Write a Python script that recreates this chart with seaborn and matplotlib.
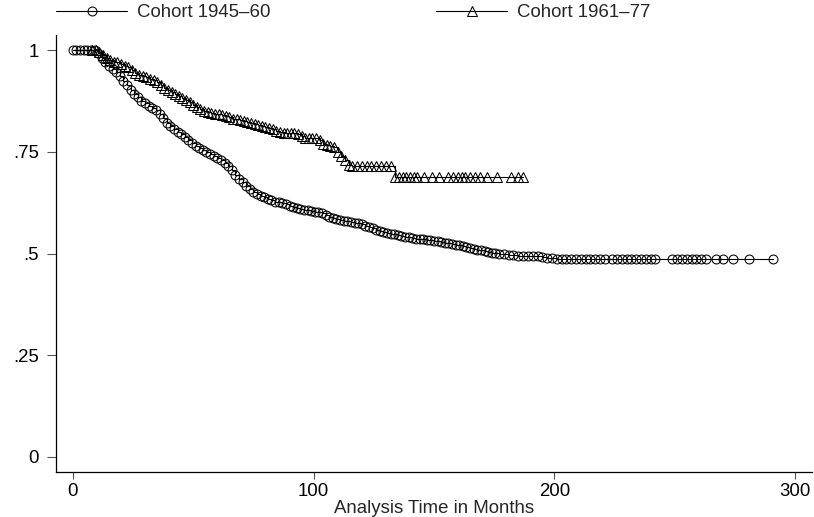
import matplotlib
matplotlib.use("Agg")
import matplotlib.pyplot as plt
import seaborn as sns
import pandas as pd

# Cohort 1945-60 (circles): analysis time (months) and survival estimate
time_c = [0, 1.5, 3, 4.5, 6, 7.5, 9, 10.5, 12, 13.5, 15, 16.5, 18, 19.5, 21, 22.5, 24, 25.5,
          27, 28.5, 30, 31.5, 33, 34.5, 36, 37.5, 39, 40.5, 42, 43.5, 45, 46.5, 48, 49.5,
          51, 52.5, 54, 55.5, 57, 58.5, 60, 61.5, 63, 64.5, 66, 67.5, 69, 70.5, 72, 73.5,
          75, 76.5, 78, 79.5, 81, 82.5, 84, 85.5, 87, 88.5, 90, 91.5, 93, 94.5, 96, 97.5,
          99, 100.5, 102, 103.5, 105, 106.5, 108, 109.5, 111, 112.5, 114, 115.5, 117, 118.5,
          120, 121.5, 123, 124.5, 126, 127.5, 129, 130.5, 132, 133.5, 135, 136.5, 138, 139.5,
          141, 142.5, 144, 145.5, 147, 148.5, 150, 151.5, 153, 154.5, 156, 157.5, 159, 160.5,
          162, 163.5, 165, 166.5, 168, 169.5, 171, 172.5, 174, 175.5, 177, 179, 181, 183,
          185, 187, 189, 191, 193, 195, 197, 199, 201, 203, 205, 207, 209, 211, 213, 215,
          217, 219, 221, 224, 226, 228, 230, 232, 234, 236, 238, 240, 242, 249, 251, 253,
          255, 257, 259, 261, 263, 267, 270, 274, 281, 291]
surv_c = [1.000, 1.000, 1.000, 1.000, 1.000, 1.000, 1.000, 0.992, 0.982, 0.972, 0.962, 0.954,
          0.946, 0.936, 0.925, 0.914, 0.903, 0.893, 0.884, 0.876, 0.870, 0.864, 0.858, 0.852,
          0.844, 0.833, 0.822, 0.813, 0.806, 0.800, 0.794, 0.787, 0.779, 0.771, 0.765, 0.759,
          0.754, 0.749, 0.745, 0.740, 0.735, 0.729, 0.723, 0.716, 0.706, 0.694, 0.684, 0.675,
          0.666, 0.658, 0.652, 0.647, 0.642, 0.638, 0.634, 0.631, 0.628, 0.626, 0.624, 0.621,
          0.618, 0.615, 0.612, 0.610, 0.608, 0.606, 0.604, 0.603, 0.602, 0.599, 0.595, 0.591,
          0.588, 0.585, 0.583, 0.581, 0.579, 0.578, 0.576, 0.574, 0.572, 0.569, 0.566, 0.562,
          0.559, 0.556, 0.553, 0.551, 0.549, 0.547, 0.545, 0.543, 0.541, 0.540, 0.538, 0.537,
          0.536, 0.535, 0.534, 0.533, 0.532, 0.530, 0.528, 0.527, 0.526, 0.524, 0.522, 0.520,
          0.518, 0.516, 0.514, 0.512, 0.510, 0.508, 0.506, 0.504, 0.502, 0.501, 0.500, 0.499,
          0.497, 0.496, 0.495, 0.494, 0.494, 0.494, 0.493, 0.492, 0.490, 0.488, 0.487, 0.487,
          0.487, 0.487, 0.487, 0.487, 0.487, 0.487, 0.487, 0.487, 0.487, 0.487, 0.487, 0.487,
          0.487, 0.487, 0.487, 0.487, 0.487, 0.487, 0.487, 0.487, 0.487, 0.487, 0.487, 0.487,
          0.487, 0.487, 0.487, 0.487, 0.487, 0.487, 0.487, 0.487]

# Cohort 1961-77 (triangles)
time_t = [8, 9.5, 11, 12.5, 14, 15.5, 17, 18.5, 20, 21.5, 23, 24.5, 26, 27.5, 29, 30.5, 32,
          33.5, 35, 36.5, 38, 39.5, 41, 42.5, 44, 45.5, 47, 48.5, 50, 51.5, 53, 54.5, 56,
          57.5, 59, 60.5, 62, 63.5, 65, 66.5, 68, 69.5, 71, 72.5, 74, 75.5, 77, 78.5, 80,
          81.5, 83, 84.5, 86, 87.5, 89, 90.5, 92, 93.5, 95, 96.5, 98, 99.5, 101, 102.5, 104,
          105.5, 107, 108.5, 110, 111.5, 113, 114.5, 116, 118, 120, 122, 124, 126, 128, 130,
          132, 134, 135.5, 137, 138.5, 140, 141.5, 143, 146, 149, 152, 156, 158, 160, 161.5,
          163, 165, 167, 169, 172, 176, 182, 185, 187]
surv_t = [1.000, 1.000, 0.995, 0.988, 0.982, 0.976, 0.972, 0.970, 0.966, 0.962, 0.958, 0.952,
          0.945, 0.940, 0.936, 0.933, 0.930, 0.927, 0.922, 0.915, 0.908, 0.902, 0.897, 0.892,
          0.887, 0.882, 0.877, 0.872, 0.866, 0.861, 0.855, 0.851, 0.847, 0.845, 0.843, 0.842,
          0.840, 0.838, 0.835, 0.832, 0.830, 0.828, 0.826, 0.823, 0.821, 0.818, 0.815, 0.813,
          0.811, 0.809, 0.806, 0.802, 0.798, 0.797, 0.796, 0.796, 0.796, 0.793, 0.788, 0.785,
          0.784, 0.784, 0.783, 0.779, 0.770, 0.766, 0.764, 0.763, 0.750, 0.740, 0.729, 0.718,
          0.715, 0.715, 0.715, 0.715, 0.715, 0.715, 0.715, 0.715, 0.715, 0.688, 0.688, 0.688,
          0.688, 0.688, 0.688, 0.688, 0.688, 0.688, 0.688, 0.688, 0.688, 0.688, 0.688, 0.688,
          0.688, 0.688, 0.688, 0.688, 0.688, 0.688, 0.688, 0.688]

labels = ["Cohort 1945–60", "Cohort 1961–77"]
x_ticks = [0, 100, 200, 300]
y_ticks = [0, 0.25, 0.5, 0.75, 1]
y_ticklabels = ["0", ".25", ".5", ".75", "1"]
x_title = "Analysis Time in Months"

sns.set_style("ticks")
plt.rcParams["font.family"] = ["Liberation Sans", "DejaVu Sans"]

FS = 13.4

fig = plt.figure(figsize=(8.14, 5.17), dpi=100)
ax = fig.add_axes([0.0688, 0.087, 0.9287, 0.845])

df_c = pd.DataFrame({"t": time_c, "s": surv_c})
df_t = pd.DataFrame({"t": time_t, "s": surv_t})

sns.lineplot(data=df_c, x="t", y="s", ax=ax, estimator=None, drawstyle="steps-post",
             color="black", lw=0.8, marker="o", markersize=6.4, markerfacecolor="none",
             markeredgecolor="black", markeredgewidth=0.75, label=labels[0], sort=False)
sns.lineplot(data=df_t, x="t", y="s", ax=ax, estimator=None, drawstyle="steps-post",
             color="black", lw=0.8, marker="^", markersize=7.4, markerfacecolor="none",
             markeredgecolor="black", markeredgewidth=0.75, label=labels[1], sort=False)

ax.set_xlim(-7, 307)
ax.set_ylim(-0.037, 1.037)
ax.set_xticks(x_ticks)
ax.set_xticklabels([str(v) for v in x_ticks])
ax.set_yticks(y_ticks)
ax.set_yticklabels(y_ticklabels)
ax.tick_params(axis="x", direction="out", length=5, width=0.8, color="#555555",
               labelsize=FS, pad=3, labelcolor="black")
ax.tick_params(axis="y", direction="out", length=6.5, width=0.8, color="#555555",
               labelsize=FS, pad=6, labelcolor="black")
for sp in ["top", "right"]:
    ax.spines[sp].set_visible(False)
for sp in ["left", "bottom"]:
    ax.spines[sp].set_linewidth(0.9)
    ax.spines[sp].set_color("black")
ax.set_xlabel(x_title, fontsize=FS, labelpad=0)
ax.set_ylabel("")

handles, labs = ax.get_legend_handles_labels()
ax.get_legend().remove()
fig.legend(handles, labs, loc="center left", bbox_to_anchor=(0.069, 0.975), ncol=2,
           frameon=False, fontsize=FS, handlelength=3.8, handletextpad=0.55,
           columnspacing=8.9, borderaxespad=0, borderpad=0)

fig.savefig("out.png", dpi=100, facecolor="white")
